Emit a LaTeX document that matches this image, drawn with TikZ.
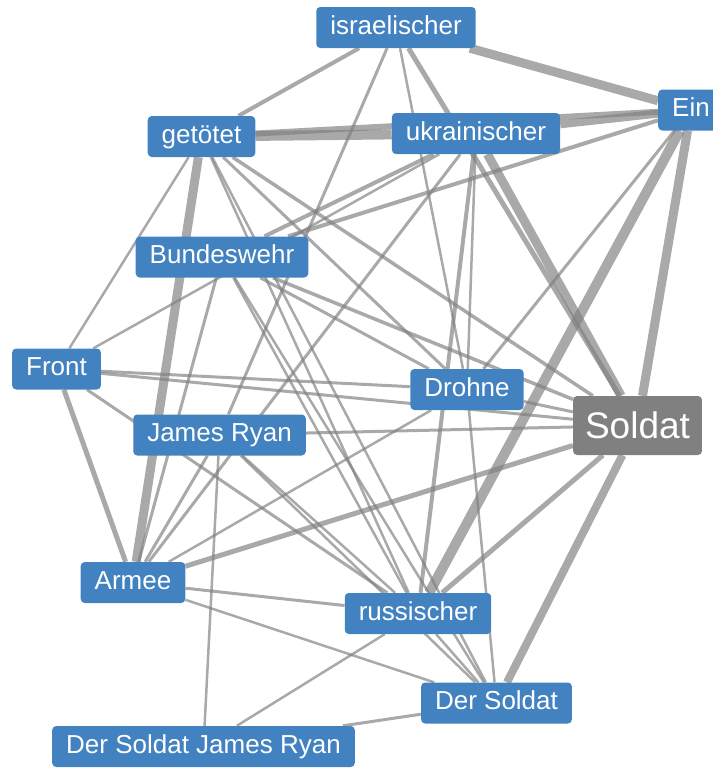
\documentclass[tikz,border=0pt]{standalone}
\usepackage{fontspec}
\setmainfont{Liberation Sans}
\usepackage{tikz}
\usetikzlibrary{backgrounds}
\definecolor{wordblue}{RGB}{66,130,192}
\definecolor{hubgray}{RGB}{128,128,128}

\begin{document}
\begin{tikzpicture}[scale=1,
  word/.style={fill=wordblue,text=white,rounded corners=4bp,inner xsep=14bp,minimum height=41bp,
    text height=18bp,text depth=5bp,font=\fontsize{26bp}{30bp}\selectfont},
  hub/.style={word,fill=hubgray,minimum height=59bp,inner xsep=12bp,
    text height=27bp,text depth=1bp,font=\fontsize{37bp}{44bp}\selectfont},
  link/.style={draw=gray,draw opacity=0.68,line width=2.5bp}]
\useasboundingbox (0bp,0bp) rectangle (713bp,-768bp);
\node (isr) at (396bp,-27.5bp)[word] {israelischer};
\node (ein) at (691bp,-110bp)[word] {Ein};
\node (get) at (201.5bp,-136.5bp)[word] {getötet};
\node (ukr) at (476bp,-133.5bp)[word] {ukrainischer};
\node (bw) at (222bp,-257bp)[word] {Bundeswehr};
\node (front) at (56.5bp,-369bp)[word] {Front};
\node (drohne) at (467bp,-389.5bp)[word] {Drohne};
\node (soldat) at (637.5bp,-425.5bp)[hub] {Soldat};
\node (jr) at (219.5bp,-435bp)[word] {James Ryan};
\node (armee) at (133bp,-582.5bp)[word] {Armee};
\node (russ) at (418bp,-613.5bp)[word] {russischer};
\node (ds) at (496.5bp,-703bp)[word] {Der Soldat};
\node (dsjr) at (203.5bp,-746.5bp)[word] {Der Soldat James Ryan};
\begin{scope}[on background layer]
% israelischer
\draw [link,line width=4bp] (isr) -- (get);
\draw [link,line width=9bp] (isr) -- (ein);
\draw [link,line width=3bp] (isr) -- (jr);
\draw [link] (isr) -- (drohne);
\draw [link,line width=5bp] (isr) -- (soldat);
% getötet, ukrainischer, Ein
\draw [link,line width=10bp] (get) -- (ukr);
\draw [link,line width=8bp] (ukr) -- (ein);
\draw [link,line width=6bp] (get) -- (ein);
\draw [link,line width=4bp] (ein) -- (bw);
\draw [link,line width=3bp] (ein) -- (drohne);
\draw [link,line width=10bp] (ein) -- (russ);
\draw [link,line width=9bp] (ein) -- (soldat);
\draw [link,line width=9bp] (ukr) -- (soldat);
\draw [link,line width=4bp] (ukr) -- (bw);
\draw [link] (ukr) -- (front);
\draw [link] (ukr) -- (drohne);
\draw [link,line width=4bp] (ukr) -- (russ);
\draw [link,line width=3bp] (ukr) -- (armee);
\draw [link] (get) -- (front);
\draw [link,line width=9bp] (get) -- (armee);
\draw [link,line width=3bp] (get) -- (drohne);
\draw [link,line width=3.5bp] (get) -- (soldat);
\draw [link] (get) -- (russ);
\draw [link] (get) -- (ds);
% Bundeswehr
\draw [link,line width=3bp] (bw) -- (armee);
\draw [link,line width=3bp] (bw) -- (drohne);
\draw [link,line width=3.5bp] (bw) -- (soldat);
\draw [link] (bw) -- (russ);
\draw [link] (bw) -- (ds);
% Front, James Ryan
\draw [link,line width=3bp] (front) -- (drohne);
\draw [link,line width=3bp] (front) -- (soldat);
\draw [link,line width=3bp] (front) -- (russ);
\draw [link,line width=5bp] (front) -- (armee);
\draw [link,line width=3bp] (jr) -- (soldat);
\draw [link,line width=3bp] (jr) -- (armee);
\draw [link] (jr) -- (russ);
\draw [link] (jr) -- (ds);
\draw [link] (jr) -- (dsjr);
% Armee, russischer, Der Soldat
\draw [link,line width=5bp] (armee) -- (soldat);
\draw [link] (armee) -- (drohne);
\draw [link,line width=3bp] (armee) -- (russ);
\draw [link] (armee) -- (ds);
\draw [link] (russ) -- (dsjr);
\draw [link] (russ) -- (ds);
\draw [link,line width=5bp] (russ) -- (soldat);
\draw [link,line width=8bp] (ds) -- (soldat);
\draw [link,line width=3bp] (ds) -- (dsjr);
\draw [link,line width=3bp] (drohne) -- (soldat);
\draw [link] (drohne) -- (ds);
\end{scope}
\end{tikzpicture}
\end{document}
